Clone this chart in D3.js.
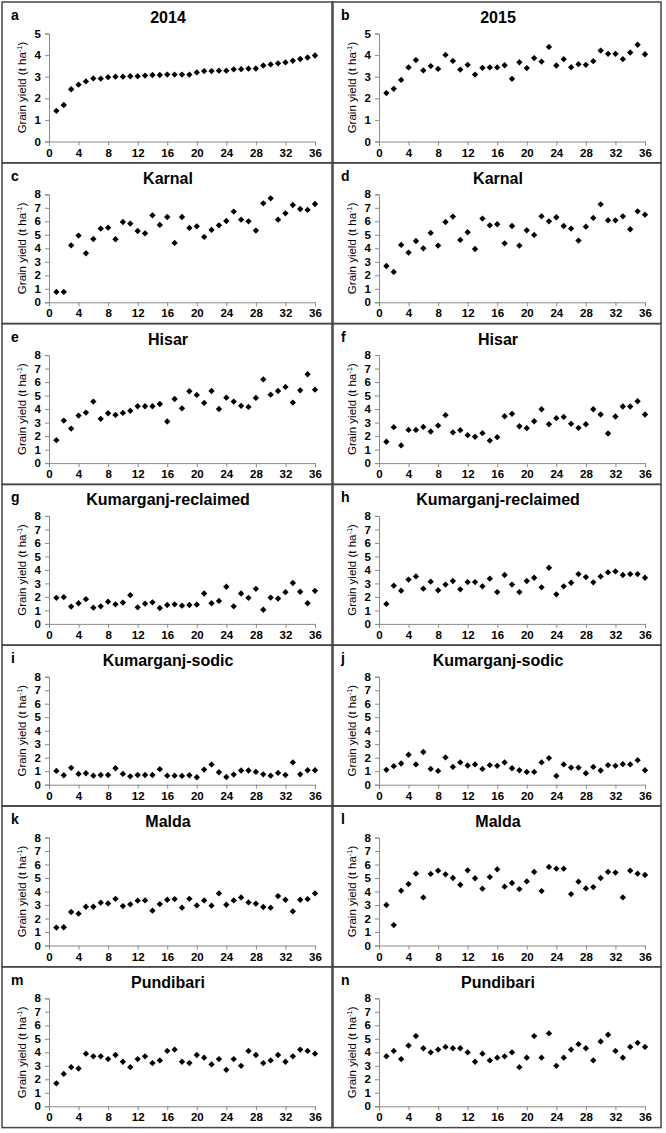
<!DOCTYPE html>
<html><head><meta charset="utf-8">
<script src="https://cdn.jsdelivr.net/npm/d3@7"></script>
<style>body{margin:0;background:#fff}svg{display:block;font-family:"Liberation Sans",Arial,sans-serif}</style>
</head><body><svg id="c" width="666" height="1133"></svg>
<script>
const xTicks = [0,4,8,12,16,20,24,28,32,36];
const yTicks5 = [0,1,2,3,4,5];
const yTicks8 = [0,1,2,3,4,5,6,7,8];
const letters = ["a","b","c","d","e","f","g","h","i","j","k","l","m","n"];
const titles = ["2014","2015","Karnal","Karnal","Hisar","Hisar","Kumarganj-reclaimed","Kumarganj-reclaimed","Kumarganj-sodic","Kumarganj-sodic","Malda","Malda","Pundibari","Pundibari"];

const a2014 = [1.42,1.69,2.42,2.63,2.78,2.92,2.91,2.98,3.0,3.0,3.02,3.02,3.05,3.08,3.08,3.1,3.1,3.1,3.1,3.2,3.26,3.26,3.28,3.28,3.34,3.35,3.37,3.38,3.52,3.57,3.62,3.66,3.74,3.82,3.89,3.98];
const b2015 = [2.24,2.44,2.85,3.43,3.77,3.29,3.49,3.36,4.01,3.73,3.33,3.55,3.1,3.41,3.43,3.43,3.53,2.9,3.67,3.4,3.86,3.7,4.38,3.52,3.81,3.44,3.58,3.55,3.72,4.21,4.06,4.06,3.81,4.12,4.48,4.04];
const cKarnal = [0.77,0.77,4.22,4.94,3.63,4.69,5.46,5.53,4.67,5.95,5.83,5.28,5.11,6.44,5.73,6.32,4.4,6.32,5.51,5.63,4.84,5.36,5.7,6.02,6.72,6.12,6.0,5.31,7.33,7.7,6.12,6.59,7.21,6.91,6.84,7.28];
const dKarnal = [2.69,2.25,4.25,3.68,4.54,4.0,5.14,4.2,5.95,6.35,4.62,5.19,3.95,6.2,5.7,5.78,4.37,5.65,4.2,5.33,4.99,6.37,6.0,6.3,5.65,5.46,4.57,5.6,6.25,7.26,6.07,6.07,6.37,5.41,6.74,6.49];
const eHisar = [1.7,3.15,2.56,3.52,3.74,4.56,3.28,3.69,3.57,3.72,3.87,4.21,4.21,4.21,4.38,3.08,4.75,4.06,5.32,5.05,4.46,5.34,4.01,4.85,4.56,4.24,4.16,4.83,6.2,5.07,5.34,5.64,4.48,5.39,6.58,5.44];
const fHisar = [1.58,2.66,1.31,2.46,2.46,2.68,2.34,2.78,3.55,2.27,2.44,2.07,1.95,2.22,1.67,1.92,3.47,3.65,2.73,2.59,3.1,3.99,2.88,3.33,3.42,2.91,2.61,2.88,3.99,3.6,2.19,3.45,4.19,4.19,4.58,3.6];
const gKumRec = [1.93,1.98,1.28,1.53,1.83,1.2,1.3,1.65,1.45,1.58,2.13,1.23,1.5,1.6,1.18,1.4,1.45,1.35,1.4,1.43,2.25,1.53,1.7,2.75,1.3,2.25,1.93,2.6,1.05,1.95,1.88,2.35,3.03,2.38,1.53,2.45];
const hKumRec = [1.48,2.83,2.46,3.28,3.52,2.61,3.13,2.49,2.91,3.18,2.56,3.1,3.1,2.78,3.35,2.36,3.62,2.91,2.36,3.18,3.42,2.71,4.16,2.19,2.78,3.05,3.69,3.47,3.08,3.52,3.82,3.89,3.62,3.69,3.69,3.42];
const iKumSod = [1.02,0.7,1.25,0.8,0.85,0.67,0.72,0.72,1.22,0.8,0.62,0.72,0.72,0.72,1.15,0.67,0.67,0.65,0.7,0.55,1.12,1.5,0.92,0.57,0.75,1.05,1.05,0.95,0.77,0.67,0.87,0.72,1.65,0.77,1.07,1.07];
const jKumSod = [1.1,1.37,1.57,2.22,1.5,2.42,1.17,1.02,2.02,1.32,1.65,1.42,1.5,1.17,1.45,1.4,1.65,1.22,1.07,0.95,0.95,1.65,1.97,0.65,1.5,1.27,1.27,0.85,1.32,1.05,1.45,1.4,1.52,1.5,1.82,1.07];
const kMalda = [1.33,1.35,2.48,2.36,2.87,2.87,3.17,3.12,3.46,2.92,3.05,3.32,3.34,2.58,3.07,3.39,3.44,2.8,3.46,2.97,3.34,2.95,3.86,3.02,3.34,3.56,3.19,3.1,2.85,2.8,3.66,3.39,2.53,3.39,3.44,3.86];
const lMalda = [3.0,1.51,4.06,4.55,5.32,3.56,5.3,5.54,5.27,5.0,4.5,5.57,4.98,4.21,5.07,5.64,4.36,4.63,4.18,4.75,5.45,4.03,5.82,5.69,5.69,3.81,4.73,4.23,4.33,5.0,5.45,5.4,3.56,5.54,5.32,5.22];
const mPundi = [1.7,2.4,2.9,2.8,3.9,3.7,3.7,3.5,3.8,3.3,2.9,3.5,3.7,3.2,3.4,4.1,4.2,3.3,3.2,3.8,3.6,3.1,3.5,2.7,3.5,3.0,4.1,3.8,3.2,3.4,3.8,3.3,3.7,4.2,4.1,3.9];
const nPundi = [3.7,4.1,3.5,4.5,5.2,4.3,4.0,4.2,4.4,4.3,4.3,4.0,3.3,3.9,3.4,3.6,3.7,4.0,2.9,3.6,5.2,3.6,5.4,3.0,3.6,4.2,4.6,4.3,3.4,4.8,5.3,4.1,3.6,4.4,4.7,4.4];

const series = [a2014,b2015,cKarnal,dKarnal,eHisar,fHisar,gKumRec,hKumRec,iKumSod,jKumSod,kMalda,lMalda,mPundi,nPundi];

const svg = d3.select("#c");
const rowH = 160.8, colL = [2, 332], colW = 331;

series.forEach((vals, k) => {
  const row = Math.floor(k/2), col = k%2;
  const top = 2 + row*rowH, left = colL[col];
  const yT = k < 2 ? yTicks5 : yTicks8;
  const x = d3.scaleLinear().domain([0,36]).range([left+47, left+313]);
  const y = d3.scaleLinear().domain([0, d3.max(yT)]).range([top+139.5, top+31.5]);
  const g = svg.append("g");

  g.append("rect").attr("x", left).attr("y", top).attr("width", colW - (col?2:0)).attr("height", rowH)
    .attr("fill","none").attr("stroke","#444").attr("stroke-width",1.5);

  const xa = g.append("g").attr("transform", `translate(0,${y(0)})`)
    .call(d3.axisBottom(x).tickValues(xTicks).tickSize(4).tickPadding(3).tickFormat(d3.format("d")));
  const ya = g.append("g").attr("transform", `translate(${x(0)},0)`)
    .call(d3.axisLeft(y).tickValues(yT).tickSize(4).tickPadding(4).tickFormat(d3.format("d")));
  [xa, ya].forEach(a => {
    a.selectAll("path,line").attr("stroke","#8a8a8a").attr("stroke-width",1);
    a.selectAll("text").attr("fill","#000").attr("font-size","11.5px").attr("font-weight","bold")
      .attr("font-family",'"Liberation Sans",Arial,sans-serif');
  });

  g.append("text").attr("x", left+9).attr("y", top+18).attr("font-size","14px").attr("font-weight","bold").text(letters[k]);
  g.append("text").attr("x", left+166).attr("y", top+21).attr("text-anchor","middle")
    .attr("font-size","16px").attr("font-weight","bold").text(titles[k]);

  const yl = g.append("text").attr("transform", `translate(${left+24},${(y.range()[0]+y.range()[1])/2}) rotate(-90)`)
    .attr("text-anchor","middle").attr("font-size","11.5px");
  yl.append("tspan").text("Grain yield (t ha");
  yl.append("tspan").attr("font-size","7.5px").attr("dy","-4").text("-1");
  yl.append("tspan").attr("dy","4").text(")");

  const sym = d3.symbol().type(d3.symbolSquare).size(20);
  g.selectAll("path.pt").data(vals).join("path").attr("class","pt")
    .attr("d", sym)
    .attr("transform", (d,i) => `translate(${x(i+1)},${y(d)}) rotate(45)`)
    .attr("fill","#000");
});
</script></body></html>
